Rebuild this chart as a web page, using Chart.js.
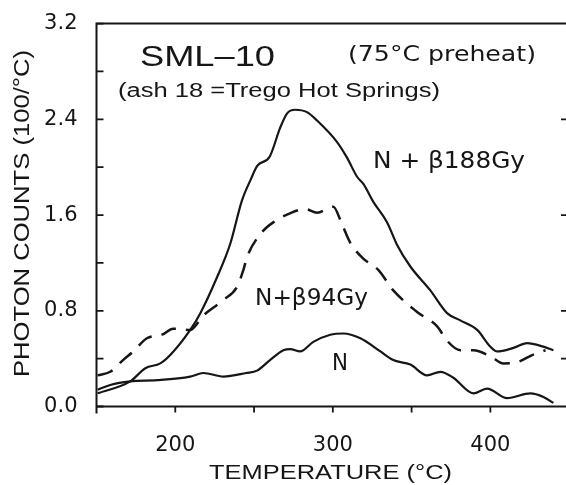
<!DOCTYPE html>
<html>
<head>
<meta charset="utf-8">
<script src="https://cdn.jsdelivr.net/npm/chart.js@4.4.1/dist/chart.umd.min.js"></script>
<style>
  html, body { margin: 0; padding: 0; background: #fff; }
  #wrap { width: 566px; height: 485px; position: relative; }
</style>
</head>
<body>
<div id="wrap"><canvas id="glow" width="566" height="485"></canvas></div>
<script>
// Glow curves of SML-10: temperature (°C) and photon counts (100/°C)
const tempBeta188 = [150.7, 171.4, 181, 190.5, 196.8, 209.5, 215.9, 226.5, 234.9, 242.3, 248, 252, 260, 266.6, 271, 276, 283.6, 290, 302.7, 309, 315.4, 319.4, 325.7, 334.4, 340.8, 349.2, 361.9, 372.5, 380.9, 391.6, 400, 404.3, 414.6, 423.3, 433.7, 440];
const countsBeta188 = [0.11, 0.21, 0.32, 0.36, 0.43, 0.64, 0.78, 1.08, 1.36, 1.72, 1.90, 2.01, 2.09, 2.33, 2.45, 2.48, 2.46, 2.39, 2.21, 2.08, 1.92, 1.86, 1.71, 1.54, 1.35, 1.17, 0.97, 0.78, 0.72, 0.64, 0.50, 0.46, 0.49, 0.53, 0.50, 0.47];

const tempBeta94 = [150.7, 158.7, 167, 173.3, 182, 191.6, 198.7, 209.5, 217.8, 230.5, 239.2, 243.2, 245.6, 253.9, 263.4, 272, 282.4, 290, 300.3, 305.6, 311, 319, 329, 338.4, 353.5, 366.2, 372.5, 380.9, 389.2, 400, 408.3, 417, 426.5, 435];
const countsBeta94 = [0.26, 0.29, 0.39, 0.46, 0.57, 0.60, 0.65, 0.64, 0.76, 0.89, 1.00, 1.14, 1.25, 1.44, 1.55, 1.61, 1.65, 1.62, 1.67, 1.53, 1.37, 1.24, 1.14, 0.97, 0.79, 0.67, 0.55, 0.47, 0.47, 0.42, 0.36, 0.37, 0.43, 0.47];

const tempNatural = [150.7, 158.7, 171.4, 188.4, 209.5, 217.8, 230.5, 245, 251.9, 260.3, 268.6, 272.9, 279.2, 287.6, 298.4, 306.7, 317.5, 330.2, 338, 349.2, 359.8, 368.3, 376.5, 389.2, 397.9, 410.6, 425.4, 433.7, 440];
const countsNatural = [0.14, 0.18, 0.21, 0.22, 0.25, 0.28, 0.25, 0.28, 0.30, 0.39, 0.47, 0.48, 0.46, 0.54, 0.60, 0.61, 0.57, 0.46, 0.39, 0.35, 0.26, 0.29, 0.24, 0.11, 0.15, 0.07, 0.11, 0.08, 0.03];

// axis ticks (every tick gets a mark, only some get a label)
const xTickValues = [200, 250, 300, 350, 400];
const xLabelled = [200, 300, 400];
const yTickValues = [0, 0.4, 0.8, 1.2, 1.6, 2.0, 2.4, 2.8, 3.2];
const yLabelled = [0, 0.8, 1.6, 2.4, 3.2];
const rightTickValues = [0.4, 0.8, 1.6, 2.4];

const toPoints = (xs, ys) => xs.map((t, i) => ({ x: t, y: ys[i] }));

const INK = '#161616';

// draws a string stretched horizontally so it spans a given width
function fittedText(ctx, text, x, y, font, width) {
  ctx.font = font;
  const w = ctx.measureText(text).width;
  ctx.save();
  ctx.translate(x, y);
  ctx.scale(width / w, 1);
  ctx.fillText(text, 0, 0);
  ctx.restore();
}

const framePlugin = {
  id: 'frame',
  afterDraw(chart) {
    const { ctx, chartArea: a, scales: { x, y } } = chart;
    ctx.save();
    ctx.strokeStyle = INK;
    ctx.lineCap = 'butt';

    // box: top line, left axis, bottom axis
    ctx.lineWidth = 2;
    ctx.beginPath();
    ctx.moveTo(a.left - 1, a.top); ctx.lineTo(a.right, a.top);
    ctx.moveTo(a.left, a.top - 1); ctx.lineTo(a.left, a.bottom + 7);
    ctx.moveTo(a.left - 1, a.bottom); ctx.lineTo(a.right, a.bottom);
    ctx.stroke();

    // inward ticks on the left axis
    ctx.lineWidth = 1.8;
    ctx.beginPath();
    y.ticks.forEach(t => {
      const py = y.getPixelForValue(t.value);
      ctx.moveTo(a.left, py); ctx.lineTo(a.left + 7, py);
    });
    // short ticks along the right edge
    rightTickValues.forEach(v => {
      const py = y.getPixelForValue(v);
      ctx.moveTo(a.right - 5, py); ctx.lineTo(a.right, py);
    });
    // downward ticks on the temperature axis
    x.ticks.forEach(t => {
      const px = x.getPixelForValue(t.value);
      ctx.moveTo(px, a.bottom); ctx.lineTo(px, a.bottom + 6);
    });
    ctx.stroke();

    // texts
    ctx.fillStyle = INK;
    ctx.textBaseline = 'alphabetic';
    ctx.textAlign = 'left';
    fittedText(ctx, 'SML–10', 140, 66, '29px "Liberation Sans"', 135);
    fittedText(ctx, '(75°C preheat)', 348, 61, '21px "DejaVu Sans"', 188);
    fittedText(ctx, '(ash 18 =Trego Hot Springs)', 118, 97, '20px "Liberation Sans"', 322);
    fittedText(ctx, 'N + β188Gy', 373, 168, '23px "DejaVu Sans"', 152);
    fittedText(ctx, 'N+β94Gy', 255, 305, '23px "DejaVu Sans"', 113);
    fittedText(ctx, 'N', 332, 370, '23px "DejaVu Sans"', 16);

    // axis titles
    fittedText(ctx, 'TEMPERATURE (°C)', 209, 479, '21px "Liberation Sans"', 243);
    ctx.save();
    ctx.translate(29, 377);
    ctx.rotate(-Math.PI / 2);
    fittedText(ctx, 'PHOTON COUNTS (100/°C)', 0, 0, '22px "Liberation Sans"', 327);
    ctx.restore();

    ctx.restore();
  }
};

const lineStyle = {
  showLine: true,
  pointRadius: 0,
  borderColor: INK,
  backgroundColor: INK,
  borderWidth: 2.2,
  cubicInterpolationMode: 'monotone',
  fill: false
};

new Chart(document.getElementById('glow'), {
  type: 'scatter',
  data: {
    datasets: [
      { ...lineStyle, label: 'N + β188Gy', data: toPoints(tempBeta188, countsBeta188) },
      { ...lineStyle, label: 'N+β94Gy', data: toPoints(tempBeta94, countsBeta94), borderDash: [16, 10], borderWidth: 2.5 },
      { ...lineStyle, label: 'N', data: toPoints(tempNatural, countsNatural) }
    ]
  },
  options: {
    responsive: false,
    animation: false,
    layout: { padding: { top: 22.5, right: 0, bottom: 0, left: 0 } },
    plugins: { legend: { display: false }, tooltip: { enabled: false } },
    scales: {
      x: {
        type: 'linear',
        min: 150,
        max: 448,
        grid: { display: false },
        border: { display: false },
        afterBuildTicks: s => { s.ticks = xTickValues.map(v => ({ value: v })); },
        ticks: {
          autoSkip: false,
          maxRotation: 0,
          padding: 18,
          color: INK,
          font: { family: '"DejaVu Sans"', size: 21 },
          callback: v => (xLabelled.includes(v) ? String(v) : '')
        },
        afterFit: s => { s.height = 78.5; }
      },
      y: {
        min: 0,
        max: 3.2,
        grid: { display: false },
        border: { display: false },
        afterBuildTicks: s => { s.ticks = yTickValues.map(v => ({ value: v })); },
        ticks: {
          autoSkip: false,
          padding: 11,
          color: INK,
          font: { family: '"DejaVu Sans"', size: 21 },
          callback: v => (yLabelled.includes(v) ? v.toFixed(1) : '')
        },
        afterFit: s => { s.width = 96.5; }
      }
    }
  },
  plugins: [framePlugin]
});
</script>
</body>
</html>
